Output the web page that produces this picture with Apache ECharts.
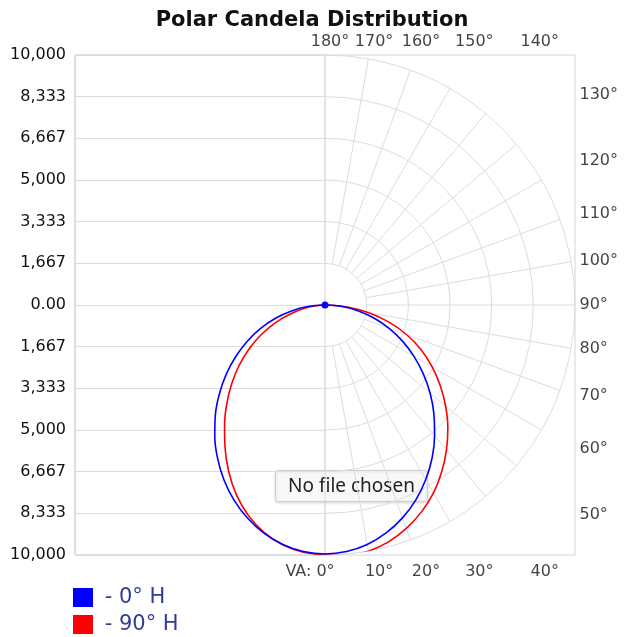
<!DOCTYPE html>
<html>
<head>
<meta charset="utf-8">
<title>Polar Candela Distribution</title>
<script src="https://cdn.jsdelivr.net/npm/echarts@6/dist/echarts.min.js"></script>
<style>
  html, body { margin: 0; padding: 0; background: #fff; }
  #chart { width: 624px; height: 637px; }
</style>
</head>
<body>
<div id="chart"></div>
<script>
// vertical angles of the photometric table (deg, 0 = straight down)
var verticalAngles = [0, 5, 10, 15, 20, 25, 30, 35, 40, 45, 50, 55, 60, 65, 70, 75, 80, 85, 90];
// candela per vertical angle, right half = plane shown in legend, left half = opposite plane
var cd0H   = [9960, 9900, 9730, 9440, 9060, 8600, 8060, 7470, 6820, 6160, 5490, 4800, 4110, 3420, 2730, 2040, 1360, 680, 0];
var cd180H = [9960, 9900, 9730, 9450, 9070, 8610, 8080, 7490, 6860, 6200, 5510, 4820, 4120, 3430, 2740, 2050, 1360, 680, 0];
var cd90H  = [10000, 10070, 10000, 9810, 9510, 9130, 8680, 8140, 7560, 6950, 6300, 5630, 4950, 4250, 3480, 2650, 1780, 890, 0];
var cd270H = [10000, 9930, 9740, 9420, 8960, 8380, 7700, 6970, 6250, 5550, 4860, 4180, 3500, 2820, 2150, 1500, 920, 440, 0];

var yTickLabels = ['10,000', '8,333', '6,667', '5,000', '3,333', '1,667', '0.00',
                   '1,667', '3,333', '5,000', '6,667', '8,333', '10,000'];
var angleTicks = [0, 10, 20, 30, 40, 50, 60, 70, 80, 90, 100, 110, 120, 130, 140, 150, 160, 170, 180];
var maxCandela = 10000;
var ringStep = maxCandela / 6;

var FONT = 'DejaVu Sans';

// closed loop: left half (opposite plane) from top down, then right half back up
function loop(right, left, dotAtEnd) {
  var pts = [];
  for (var i = verticalAngles.length - 1; i >= 0; i--) {
    pts.push([left[i], 360 - verticalAngles[i]]);
  }
  for (var j = 0; j < verticalAngles.length; j++) {
    pts.push([right[j], verticalAngles[j]]);
  }
  if (dotAtEnd) {
    var last = pts.pop();
    pts.push({ value: last, symbol: 'circle', symbolSize: 7 });
  }
  return pts;
}

// distance from the centre to the plot box along a spoke
function edgeRadius(a) {
  var rad = a * Math.PI / 180;
  return maxCandela / Math.max(Math.sin(rad), Math.abs(Math.cos(rad)));
}

var spokes = angleTicks.map(function (a) {
  return {
    type: 'line', coordinateSystem: 'polar', polarIndex: 1,
    silent: true, clip: false, symbol: 'none', z: 1,
    lineStyle: { color: '#dcdcdc', width: 1 },
    data: [[ringStep, a], [edgeRadius(a), a]]
  };
});

var angleLabels = {
  type: 'scatter', coordinateSystem: 'polar', polarIndex: 1,
  silent: true, clip: false, symbolSize: 1, z: 2,
  itemStyle: { color: 'rgba(0,0,0,0)' },
  data: angleTicks.map(function (a) {
    var pos = a > 135 ? 'top' : (a < 45 ? 'bottom' : 'right');
    var off = pos === 'right' ? [-1, 0] : (pos === 'top' ? [5, 0] : [10, 0]);
    if (a === 0) off = [-15, 0];
    return {
      value: [edgeRadius(a), a],
      label: {
        show: true, position: pos, offset: off,
        distance: pos === 'bottom' ? 8 : 5,
        formatter: a === 0 ? 'VA: 0°' : a + '°',
        fontFamily: FONT, fontSize: 16, color: '#111'
      }
    };
  })
};

var chart = echarts.init(document.getElementById('chart'));
chart.setOption({
  animation: false,
  title: {
    text: 'Polar Candela Distribution',
    left: 'center', top: 5,
    textStyle: { fontFamily: FONT, fontSize: 21, fontWeight: 'bold', color: '#111' }
  },
  legend: {
    orient: 'vertical', left: 73, top: 587, padding: 0,
    itemWidth: 20, itemHeight: 19, itemGap: 6,
    icon: 'rect',
    data: ['0° H', '90° H'],
    formatter: ' - {name}',
    textStyle: { fontFamily: FONT, fontSize: 21, color: '#323c96' }
  },
  grid: [
    { left: 75, top: 55, width: 500, height: 500, show: true, borderColor: '#d4d4d4', borderWidth: 1 },
    { left: 75, top: 55, width: 250, height: 500, show: true, borderColor: '#d4d4d4', borderWidth: 1 }
  ],
  xAxis: [
    { gridIndex: 0, type: 'value', show: false },
    { gridIndex: 1, type: 'value', show: false }
  ],
  yAxis: [
    { gridIndex: 0, type: 'value', show: false },
    {
      gridIndex: 1, type: 'category', data: yTickLabels, boundaryGap: false,
      axisLine: { show: false }, axisTick: { show: false },
      axisLabel: { interval: 0, margin: 9, fontFamily: FONT, fontSize: 16, color: '#111' },
      splitLine: { show: true, interval: 0, lineStyle: { color: '#dcdcdc', width: 1 } }
    }
  ],
  polar: [
    { center: [325, 305], radius: 250 },
    { center: [325, 305], radius: 250 }
  ],
  angleAxis: [
    {
      polarIndex: 0, type: 'value', min: 0, max: 180,
      startAngle: -90, endAngle: 90, clockwise: false,
      axisLine: { show: false }, axisTick: { show: false },
      axisLabel: { show: false }, splitLine: { show: false }
    },
    {
      polarIndex: 1, type: 'value', min: 0, max: 360,
      startAngle: -90, clockwise: false,
      axisLine: { show: false }, axisTick: { show: false },
      axisLabel: { show: false }, splitLine: { show: false }
    }
  ],
  radiusAxis: [
    {
      polarIndex: 0, type: 'value', min: 0, max: maxCandela, interval: ringStep,
      axisLine: { show: false }, axisTick: { show: false }, axisLabel: { show: false },
      splitLine: { show: true, lineStyle: { color: '#dcdcdc', width: 1 } }
    },
    {
      polarIndex: 1, type: 'value', min: 0, max: maxCandela,
      axisLine: { show: false }, axisTick: { show: false }, axisLabel: { show: false },
      splitLine: { show: false }
    }
  ],
  graphic: [{
    type: 'group', left: 275, top: 470, z: 100,
    children: [
      {
        type: 'rect', shape: { x: 0, y: 0, width: 152, height: 31, r: 2 },
        style: { fill: '#f8f8f8', stroke: '#cfcfcf', lineWidth: 1,
                 shadowBlur: 3, shadowOffsetY: 1, shadowColor: 'rgba(0,0,0,0.15)' }
      },
      {
        type: 'text', x: 76, y: 16,
        style: { text: 'No file chosen', fill: '#222', font: '19px "Noto Sans"',
                 align: 'center', verticalAlign: 'middle',
                 textAlign: 'center', textVerticalAlign: 'middle' }
      }
    ]
  }],
  series: spokes.concat([
    angleLabels,
    {
      name: '0° H', type: 'line', coordinateSystem: 'polar', polarIndex: 1,
      clip: false, symbol: 'none', showSymbol: true, smooth: 0.35, z: 4, color: '#0000ff',
      lineStyle: { color: '#0000ff', width: 1.6 },
      data: loop(cd0H, cd180H, true)
    },
    {
      name: '90° H', type: 'line', coordinateSystem: 'polar', polarIndex: 1,
      clip: false, symbol: 'none', smooth: 0.35, z: 3, color: '#ff0000',
      lineStyle: { color: '#ff0000', width: 1.6 },
      data: loop(cd90H, cd270H, false)
    }
  ])
});
</script>
</body>
</html>
